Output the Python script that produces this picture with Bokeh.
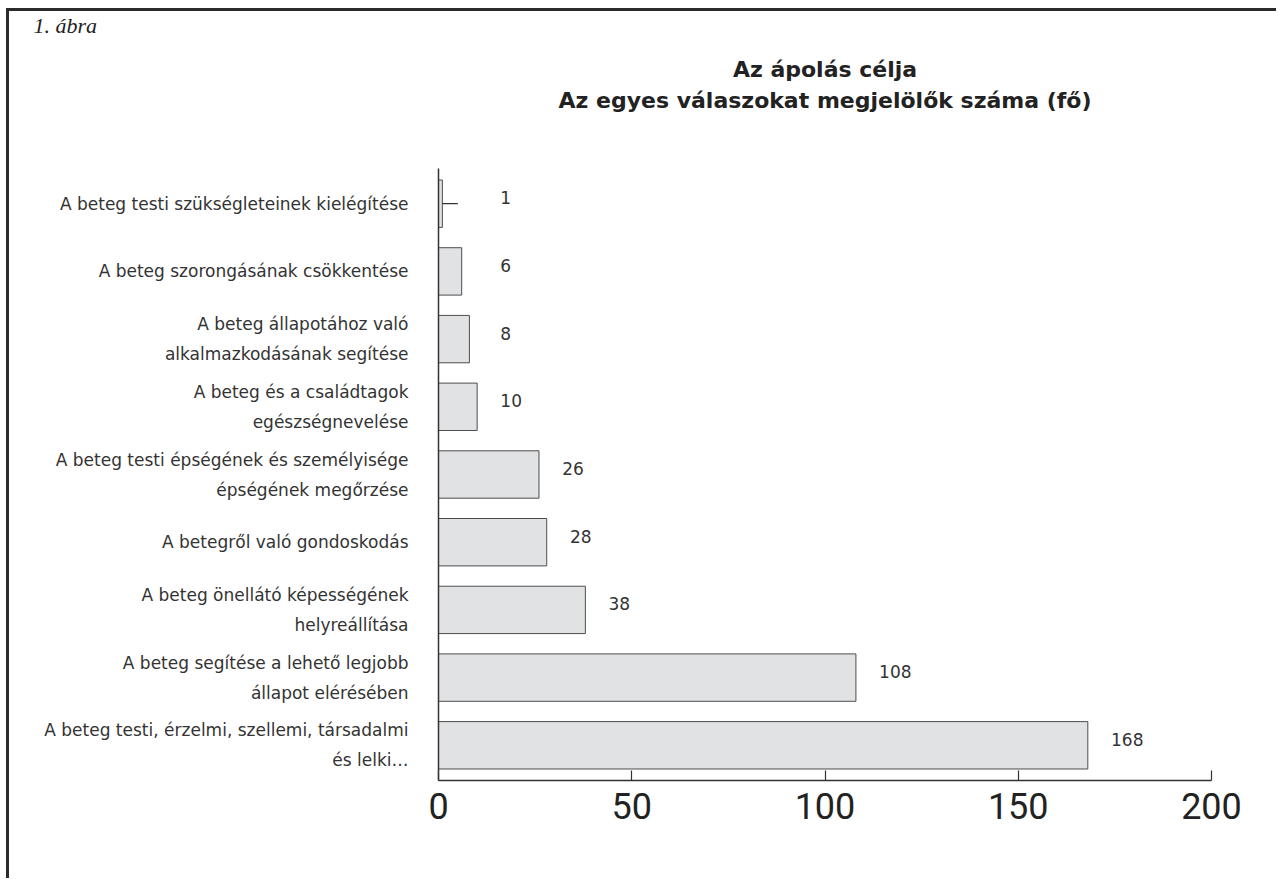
from bokeh.plotting import figure
from bokeh.models import Range1d, FixedTicker, ColumnDataSource, LabelSet, Title
from bokeh.core.properties import value
from bokeh.embed import file_html
from bokeh.resources import INLINE

categories = [
    "A beteg testi szükségleteinek kielégítése",
    "A beteg szorongásának csökkentése",
    "A beteg állapotához való\nalkalmazkodásának segítése",
    "A beteg és a családtagok\negészségnevelése",
    "A beteg testi épségének és személyisége\népségének megőrzése",
    "A betegről való gondoskodás",
    "A beteg önellátó képességének\nhelyreállítása",
    "A beteg segítése a lehető legjobb\nállapot elérésében",
    "A beteg testi, érzelmi, szellemi, társadalmi\nés lelki…",
]
values = [1, 6, 8, 10, 26, 28, 38, 108, 168]
x_ticks = [0, 50, 100, 150, 200]
title_line1 = "Az ápolás célja"
title_line2 = "Az egyes válaszokat megjelölők száma (fő)"
figure_caption = "1. ábra"

idx = list(range(len(categories)))
n = len(categories)

p = figure(width=1270, height=870, output_backend="svg", toolbar_location=None,
           x_range=Range1d(0, 200), y_range=Range1d(n - 1 + 0.52, -0.52),
           min_border_left=429, min_border_right=68, min_border_top=156,
           min_border_bottom=101,
           styles={"margin-left": "6px", "margin-top": "8px",
                   "border-left": "3px solid #2b2b2b", "border-top": "3px solid #2b2b2b"})

p.hbar(y=idx, left=0, right=values, height=0.7, fill_color="#e1e2e4",
       line_color="#4d4d4d", line_width=1)

# leader line for the smallest value
p.segment(x0=[values[0]], y0=[0], x1=[values[0] + 4], y1=[0], line_color="#333", line_width=1.2)

lab_x = [max(v + 6, 16) for v in values]
src = ColumnDataSource(dict(x=lab_x, y=idx, t=[str(v) for v in values]))
p.add_layout(LabelSet(x="x", y="y", text="t", source=src, y_offset=6,
                      text_baseline="middle", text_font=value("DejaVu Sans"),
                      text_font_size="17px", text_color="#333"))

p.xgrid.visible = False
p.ygrid.visible = False
p.outline_line_color = None

xa = p.xaxis[0]
xa.ticker = FixedTicker(ticks=x_ticks)
xa.major_tick_in = 10
xa.major_tick_out = 0
xa.minor_tick_line_color = None
xa.axis_line_color = "#333"
xa.axis_line_width = 1.5
xa.major_tick_line_color = "#333"
xa.major_tick_line_width = 1.2
xa.major_label_text_font = "Roboto"
xa.major_label_text_font_size = "36px"
xa.major_label_text_color = "#222"
xa.major_label_standoff = 12

ya = p.yaxis[0]
ya.ticker = FixedTicker(ticks=idx)
ya.major_label_overrides = {i: c for i, c in zip(idx, categories)}
ya.major_tick_in = 0
ya.major_tick_out = 0
ya.minor_tick_line_color = None
ya.axis_line_color = "#333"
ya.axis_line_width = 1.5
ya.major_label_text_font = "DejaVu Sans"
ya.major_label_text_font_size = "17px"
ya.major_label_text_color = "#333"
ya.major_label_standoff = 30
ya.major_label_text_line_height = 1.5

# caption is the main title (outermost); then title lines, plus an empty spacer nearest the frame
p.title.text = figure_caption
p.title.align = "left"
p.title.offset = -405
p.title.text_font = "Liberation Serif"
p.title.text_font_size = "22px"
p.title.text_font_style = "italic"
p.title.text_color = "#222"
p.title.standoff = -1

title_kw = dict(align="center", text_font="DejaVu Sans", text_font_size="22px",
                text_font_style="bold", text_color="#222")
p.add_layout(Title(text=" ", standoff=42, **title_kw), "above")
p.add_layout(Title(text=title_line2, standoff=-26, **title_kw), "above")
p.add_layout(Title(text=title_line1, standoff=34, **title_kw), "above")

open("out.html", "w").write(file_html(p, INLINE))
